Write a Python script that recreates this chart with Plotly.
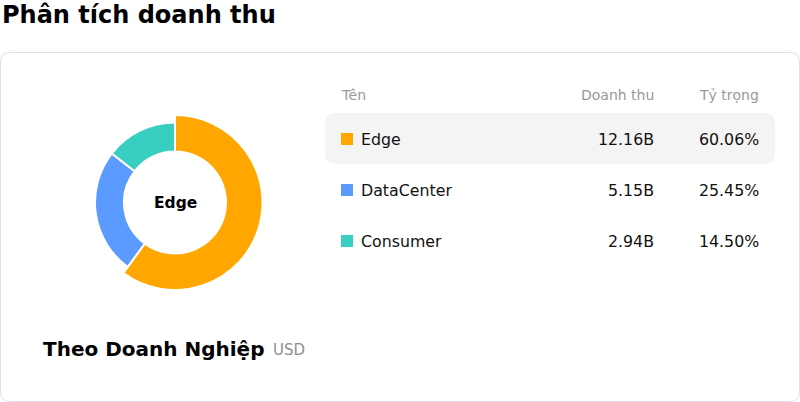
import plotly.graph_objects as go

# Dữ liệu
ten = ["Edge", "DataCenter", "Consumer"]
doanh_thu = [12.16, 5.15, 2.94]  # tỷ USD
ty_trong = [60.06, 25.45, 14.50]  # %
mau = ["#ffa600", "#5b9aff", "#39cfc0"]
cot = ["Tên", "Doanh thu", "Tỷ trọng"]

W, H = 800, 402
font = "DejaVu Sans"

# Tâm và bán kính của donut (pixel)
cx, cy = 175, 202.5
r_nho, r_lon, r_trong = 80, 87.5, 51


def mien(r):
    return dict(x=[(cx - r) / W, (cx + r) / W],
                y=[1 - (cy + r) / H, 1 - (cy - r) / H])


def bo_goc(x0, y0, x1, y1, r):
    return (f"M {x0+r},{y0} L {x1-r},{y0} Q {x1},{y0} {x1},{y0+r} "
            f"L {x1},{y1-r} Q {x1},{y1} {x1-r},{y1} L {x0+r},{y1} "
            f"Q {x0},{y1} {x0},{y1-r} L {x0},{y0+r} Q {x0},{y0} {x0+r},{y0} Z")


fig = go.Figure()

# Donut chính
fig.add_trace(go.Pie(
    labels=ten, values=doanh_thu, sort=False, direction="clockwise",
    hole=r_trong / r_nho, domain=mien(r_nho), textinfo="none",
    marker=dict(colors=mau, line=dict(color="white", width=2)),
    showlegend=False, hoverinfo="label+percent",
))

# Lát đang chọn (Edge) to hơn một chút
trong_suot = "rgba(0,0,0,0)"
fig.add_trace(go.Pie(
    labels=ten, values=doanh_thu, sort=False, direction="clockwise",
    hole=r_trong / r_lon, domain=mien(r_lon), textinfo="none",
    marker=dict(colors=[mau[0], trong_suot, trong_suot],
                line=dict(color=["white", trong_suot, trong_suot], width=2)),
    showlegend=False, hoverinfo="skip",
))

shapes = []
# Khung thẻ
shapes.append(dict(type="path", path=bo_goc(0.5, 52.5, 799.5, 401.5, 9),
                   xref="x", yref="y", line=dict(color="#e0dfec", width=1),
                   fillcolor="white", layer="below"))
# Hàng được chọn
shapes.append(dict(type="path", path=bo_goc(325, 113, 775, 164, 11),
                   xref="x", yref="y", line=dict(width=0),
                   fillcolor="#f4f4f4", layer="below"))

ann = []
ann.append(dict(x=0, y=15, text="<b>Phân tích doanh thu</b>", xanchor="left",
                font=dict(size=24, color="#000")))
ann.append(dict(x=cx, y=cy, text="<b>Edge</b>", xanchor="center",
                font=dict(size=15.5, color="#000")))

# Tiêu đề bảng (annotation có lề ~2px nên bù lại)
x_cot = [339, 656, 760.5]
canh = ["left", "right", "right"]
for i, c in enumerate(cot):
    ann.append(dict(x=x_cot[i], y=95, text=c, xanchor=canh[i],
                    font=dict(size=14, color="#999999")))

# Các hàng
y_hang = [139, 190, 241]
for i in range(len(ten)):
    y = y_hang[i]
    shapes.append(dict(type="rect", xref="x", yref="y", x0=341, x1=353,
                       y0=y - 6, y1=y + 6, fillcolor=mau[i], line=dict(width=0)))
    ann.append(dict(x=359, y=y, text=ten[i], xanchor="left",
                    font=dict(size=15.8, color="#111")))
    ann.append(dict(x=x_cot[1], y=y, text=f"{doanh_thu[i]:.2f}B", xanchor="right",
                    font=dict(size=15.8, color="#111")))
    ann.append(dict(x=x_cot[2], y=y, text=f"{ty_trong[i]:.2f}%", xanchor="right",
                    font=dict(size=15.8, color="#111")))

# Chú thích dưới
ann.append(dict(x=41, y=349, text="<b>Theo Doanh Nghiệp</b>", xanchor="left",
                font=dict(size=20, color="#000")))
ann.append(dict(x=271, y=350, text="USD", xanchor="left",
                font=dict(size=15, color="#8f8f8f")))

for a in ann:
    a.update(xref="x", yref="y", showarrow=False, yanchor="middle")

fig.update_layout(
    width=W, height=H, margin=dict(l=0, r=0, t=0, b=0),
    paper_bgcolor="white", plot_bgcolor="white",
    font=dict(family=font),
    xaxis=dict(range=[0, W], visible=False, fixedrange=True),
    yaxis=dict(range=[H, 0], visible=False, fixedrange=True),
    shapes=shapes, annotations=ann,
)

# bỏ lề mặc định 8px của trang
fig.write_html("out.html", config={"displayModeBar": False},
               post_script="document.body.style.margin='0';")
